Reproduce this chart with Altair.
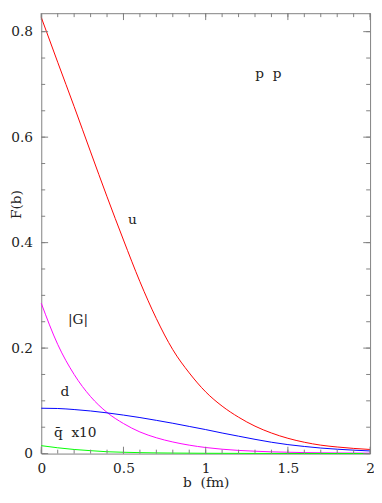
import altair as alt
import pandas as pd

# impact parameter b (fm)
b_vals = [0.0, 0.1, 0.2, 0.3, 0.4, 0.5, 0.6, 0.7, 0.8, 0.9, 1.0,
          1.1, 1.2, 1.3, 1.4, 1.5, 1.6, 1.7, 1.8, 1.9, 2.0]
u_vals = [0.827, 0.742, 0.658, 0.572, 0.487, 0.405, 0.326, 0.256, 0.197, 0.153, 0.117,
          0.090, 0.069, 0.052, 0.039, 0.029, 0.0215, 0.016, 0.0125, 0.0098, 0.0078]
g_vals = [0.285, 0.207, 0.150, 0.108, 0.078, 0.057, 0.041, 0.030, 0.022, 0.016, 0.0115,
          0.0083, 0.0060, 0.0045, 0.0033, 0.0025, 0.0019, 0.0015, 0.0012, 0.0010, 0.0008]
d_vals = [0.086, 0.0855, 0.0835, 0.0808, 0.0772, 0.073, 0.0683, 0.063, 0.0575, 0.0515, 0.0455,
          0.039, 0.033, 0.027, 0.0215, 0.017, 0.0135, 0.0105, 0.0083, 0.0065, 0.005]
q_vals = [0.015, 0.011, 0.0078, 0.0055, 0.0035, 0.0025, 0.0018, 0.0013, 0.0010, 0.0008, 0.0006,
          0.0005, 0.0004, 0.0003, 0.0003, 0.0002, 0.0002, 0.0002, 0.0001, 0.0001, 0.0001]

series_names = ["u", "G", "d", "q"]
series_colors = ["#ff0000", "#ff00ff", "#0000ff", "#00ff00"]

x_major = [0, 0.5, 1, 1.5, 2]
x_minor = [0.0, 0.1, 0.2, 0.3, 0.4, 0.5, 0.6, 0.7, 0.8, 0.9, 1.0,
           1.1, 1.2, 1.3, 1.4, 1.5, 1.6, 1.7, 1.8, 1.9, 2.0]
y_major = [0, 0.2, 0.4, 0.6, 0.8]
y_minor = [0.0, 0.05, 0.1, 0.15, 0.2, 0.25, 0.3, 0.35, 0.4, 0.45, 0.5,
           0.55, 0.6, 0.65, 0.7, 0.75, 0.8]

label_text = ["u", "|G|", "d", "q\u0304\u00a0\u00a0x10", "p\u00a0\u00a0p"]
label_x = [0.528, 0.1625, 0.117, 0.077, 1.301]
label_y = [0.436, 0.245, 0.109, 0.031, 0.712]

rows = []
for name, vals in zip(series_names, [u_vals, g_vals, d_vals, q_vals]):
    for i, (bb, v) in enumerate(zip(b_vals, vals)):
        rows.append({"b": bb, "F": v, "series": name, "order": i})
df = pd.DataFrame(rows)
labels_df = pd.DataFrame({"text": label_text, "x": label_x, "y": label_y})

W, H = 336, 450
FONT = "DejaVu Serif"
TXT = "#222222"
FRAME = "#808080"
MAJ, MIN = 7, 4

xscale = alt.Scale(domain=[0, 2], nice=False, zero=False)
yscale = alt.Scale(domain=[0, 0.835], nice=False, zero=False)

x_label_axis = alt.Axis(orient="bottom", values=x_major, ticks=False, domain=False, grid=False,
                        labelExpr="'' + datum.value", labelFont=FONT, labelFontSize=14,
                        labelColor=TXT, labelPadding=8, labelFlush=False,
                        title="b\u00a0\u00a0(fm)", titleFont=FONT, titleFontSize=14,
                        titleFontWeight="normal", titleColor=TXT, titleY=34,
                        titleBaseline="alphabetic")
y_label_axis = alt.Axis(orient="left", values=y_major, ticks=False, domain=False, grid=False,
                        labelExpr="'' + datum.value", labelFont=FONT, labelFontSize=14,
                        labelColor=TXT, labelPadding=9, labelFlush=False,
                        title="F(b)", titleFont=FONT, titleFontSize=14,
                        titleFontWeight="normal", titleColor=TXT, titleX=-25, titleY=195,
                        titleAngle=270, titleBaseline="middle", titleAlign="center")

lines = alt.Chart(df).mark_line(strokeWidth=1, interpolate="monotone").encode(
    x=alt.X("b:Q", scale=xscale, axis=x_label_axis),
    y=alt.Y("F:Q", scale=yscale, axis=y_label_axis),
    color=alt.Color("series:N", scale=alt.Scale(domain=series_names, range=series_colors),
                    legend=None),
    order="order:Q",
)


def xticks(values, length):
    src = pd.DataFrame({"v": values})
    bottom = alt.Chart(src).mark_rule(color=FRAME, strokeWidth=1).encode(
        x=alt.X("v:Q", scale=xscale, axis=None),
        y=alt.value(H), y2=alt.value(H - length))
    top = alt.Chart(src).mark_rule(color=FRAME, strokeWidth=1).encode(
        x=alt.X("v:Q", scale=xscale, axis=None),
        y=alt.value(0), y2=alt.value(length))
    return [bottom, top]


def yticks(values, length):
    src = pd.DataFrame({"v": values})
    left = alt.Chart(src).mark_rule(color=FRAME, strokeWidth=1).encode(
        y=alt.Y("v:Q", scale=yscale, axis=None),
        x=alt.value(0), x2=alt.value(length))
    right = alt.Chart(src).mark_rule(color=FRAME, strokeWidth=1).encode(
        y=alt.Y("v:Q", scale=yscale, axis=None),
        x=alt.value(W), x2=alt.value(W - length))
    return [left, right]


tick_layers = (xticks(x_minor, MIN) + xticks(x_major, MAJ)
               + yticks(y_minor, MIN) + yticks(y_major, MAJ))

texts = alt.Chart(labels_df).mark_text(font=FONT, fontSize=14, color=TXT, align="left",
                                       baseline="alphabetic").encode(
    x=alt.X("x:Q", scale=xscale, axis=None),
    y=alt.Y("y:Q", scale=yscale, axis=None),
    text="text:N",
)

chart = alt.layer(lines, *tick_layers, texts).resolve_axis(
    x="independent", y="independent"
).properties(
    width=W, height=H,
    autosize=alt.AutoSizeParams(type="none"),
    padding={"left": 34, "top": 0, "right": 4, "bottom": 37},
).configure_view(stroke=FRAME, strokeWidth=1)

chart.save("out.html", embed_options={"renderer": "svg", "actions": False})
